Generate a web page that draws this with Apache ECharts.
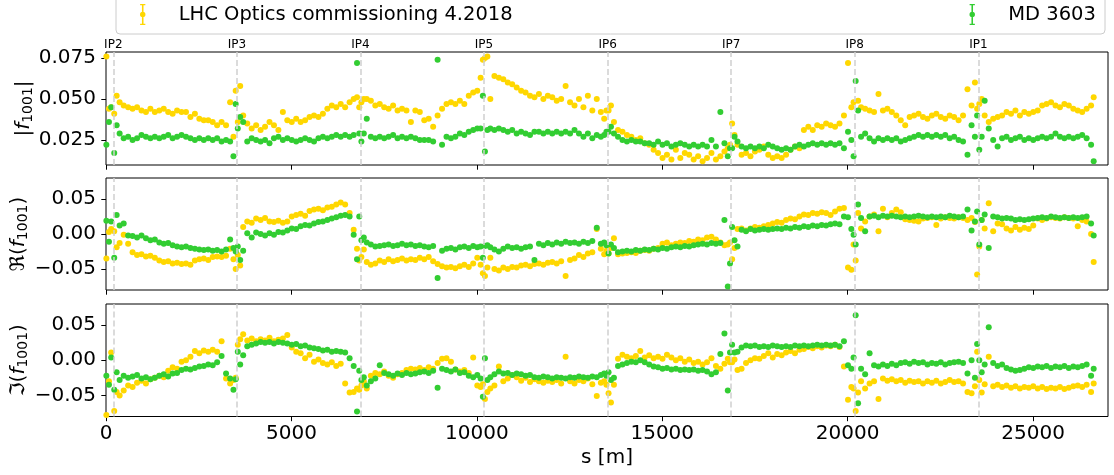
<!DOCTYPE html>
<html><head><meta charset="utf-8">
<script src="https://cdn.jsdelivr.net/npm/echarts@6/dist/echarts.min.js"></script>
<style>html,body{margin:0;padding:0;background:#fff}#c{width:1114px;height:475px}</style>
</head><body><div id="c"></div>
<script>
// BPM longitudinal positions s [m]
const S = [10, 80, 140,
 222, 287, 367, 477, 597, 717, 837, 957, 1077, 1197, 1317, 1437, 1557, 1677, 1797, 1917, 2037, 2157, 2277, 2397, 2517, 2637, 2757, 2877, 2997, 3117, 3237, 3347, 3437, 3497,
 3554, 3619, 3699, 3809, 3929, 4049, 4169, 4289, 4409, 4529, 4649, 4769, 4889, 5009, 5129, 5249, 5369, 5489, 5609, 5729, 5849, 5969, 6089, 6209, 6329, 6449, 6569, 6679, 6769, 6829,
 6887, 6952, 7032, 7142, 7262, 7382, 7502, 7622, 7742, 7862, 7982, 8102, 8222, 8342, 8462, 8582, 8702, 8822, 8942, 9062, 9182, 9302, 9422, 9542, 9662, 9782, 9902, 10012, 10102, 10162,
 10219, 10284, 10364, 10474, 10594, 10714, 10834, 10954, 11074, 11194, 11314, 11434, 11554, 11674, 11794, 11914, 12034, 12154, 12274, 12394, 12514, 12634, 12754, 12874, 12994, 13114, 13234, 13344, 13434, 13494,
 13552, 13617, 13697, 13807, 13927, 14047, 14167, 14287, 14407, 14527, 14647, 14767, 14887, 15007, 15127, 15247, 15367, 15487, 15607, 15727, 15847, 15967, 16087, 16207, 16327, 16447, 16567, 16677, 16767, 16827,
 16884, 16949, 17029, 17139, 17259, 17379, 17499, 17619, 17739, 17859, 17979, 18099, 18219, 18339, 18459, 18579, 18699, 18819, 18939, 19059, 19179, 19299, 19419, 19539, 19659, 19779, 19899, 20009, 20099, 20159,
 20216, 20281, 20361, 20471, 20591, 20711, 20831, 20951, 21071, 21191, 21311, 21431, 21551, 21671, 21791, 21911, 22031, 22151, 22271, 22391, 22511, 22631, 22751, 22871, 22991, 23111, 23231, 23341, 23431, 23491,
 23549, 23614, 23694, 23804, 23924, 24044, 24164, 24284, 24404, 24524, 24644, 24764, 24884, 25004, 25124, 25244, 25364, 25484, 25604, 25724, 25844, 25964, 26084, 26204, 26324, 26444, 26564, 26634];

// |f1001|
const ABS_LHC = [0.076, 0.044, 0.045,
 0.041, 0.052, 0.048, 0.046, 0.045, 0.044, 0.045, 0.043, 0.042, 0.044, 0.042, 0.043, 0.044, 0.042, 0.041, 0.043, 0.042, 0.042, 0.039, 0.041, 0.038, 0.037, 0.037, 0.036, 0.034, 0.036, 0.034, 0.048, 0.027, 0.055,
 0.036, 0.058, 0.040, 0.035, 0.032, 0.034, 0.031, 0.033, 0.036, 0.034, 0.031, 0.042, 0.037, 0.036, 0.038, 0.036, 0.037, 0.039, 0.040, 0.039, 0.041, 0.044, 0.046, 0.045, 0.047, 0.045, 0.048, 0.050, 0.051, 0.045,
 0.048, 0.050, 0.050, 0.049, 0.046, 0.047, 0.045, 0.044, 0.046, 0.043, 0.044, 0.043, 0.036, 0.043, 0.042, 0.037, 0.038, 0.033, 0.040, 0.044, 0.047, 0.048, 0.047, 0.049, 0.047, 0.052, 0.054, 0.055, 0.063, 0.074,
 0.075, 0.076, 0.050, 0.064, 0.063, 0.062, 0.060, 0.059, 0.057, 0.055, 0.054, 0.052, 0.051, 0.053, 0.050, 0.052, 0.051, 0.049, 0.050, 0.058, 0.048, 0.046, 0.050, 0.045, 0.052, 0.043, 0.050, 0.042, 0.038, 0.043,
 0.043, 0.046, 0.036, 0.031, 0.030, 0.028, 0.027, 0.025, 0.026, 0.023, 0.022, 0.019, 0.017, 0.014, 0.016, 0.013, 0.019, 0.014, 0.017, 0.016, 0.013, 0.015, 0.012, 0.014, 0.017, 0.013, 0.015, 0.018, 0.020, 0.022,
 0.035, 0.028, 0.022, 0.016, 0.017, 0.015, 0.018, 0.019, 0.021, 0.016, 0.014, 0.015, 0.014, 0.016, 0.019, 0.021, 0.020, 0.031, 0.033, 0.031, 0.034, 0.033, 0.035, 0.034, 0.033, 0.035, 0.040, 0.072, 0.045, 0.048,
 0.079, 0.049, 0.045, 0.044, 0.043, 0.042, 0.053, 0.043, 0.044, 0.042, 0.040, 0.037, 0.034, 0.039, 0.040, 0.041, 0.039, 0.038, 0.040, 0.041, 0.039, 0.038, 0.040, 0.039, 0.037, 0.040, 0.056, 0.046, 0.060, 0.044,
 0.047, 0.050, 0.040, 0.036, 0.038, 0.039, 0.040, 0.042, 0.041, 0.043, 0.040, 0.042, 0.041, 0.042, 0.043, 0.046, 0.047, 0.048, 0.046, 0.045, 0.047, 0.046, 0.044, 0.043, 0.042, 0.044, 0.046, 0.051];
const ABS_MD = [0.022, 0.036, 0.045,
 0.017, 0.034, 0.029, 0.026, 0.027, 0.025, 0.026, 0.028, 0.027, 0.026, 0.027, 0.026, 0.027, 0.028, 0.026, 0.027, 0.028, 0.027, 0.026, 0.025, 0.026, 0.025, 0.026, 0.025, 0.026, 0.024, 0.025, 0.024, 0.015, 0.047,
 0.032, 0.039, 0.036, 0.024, 0.026, 0.025, 0.024, 0.025, 0.023, 0.026, 0.027, 0.025, 0.026, 0.025, 0.024, 0.025, 0.026, 0.025, 0.024, 0.026, 0.027, 0.026, 0.027, 0.028, 0.027, 0.028, 0.027, 0.028, 0.072, 0.029,
 0.024, 0.029, 0.038, 0.027, 0.026, 0.027, 0.026, 0.027, 0.028, 0.026, 0.027, 0.026, 0.027, 0.026, 0.025, 0.025, 0.025, 0.024, 0.074, 0.022, 0.027, 0.026, 0.027, 0.029, 0.028, 0.030, 0.031, 0.032, 0.032, 0.052,
 0.018, 0.031, 0.032, 0.031, 0.032, 0.031, 0.030, 0.031, 0.029, 0.030, 0.029, 0.028, 0.030, 0.030, 0.029, 0.030, 0.029, 0.030, 0.029, 0.030, 0.029, 0.031, 0.029, 0.027, 0.029, 0.026, 0.028, 0.027, 0.028, 0.030,
 0.030, 0.033, 0.029, 0.027, 0.025, 0.024, 0.025, 0.024, 0.024, 0.023, 0.023, 0.022, 0.024, 0.022, 0.023, 0.021, 0.022, 0.023, 0.022, 0.021, 0.022, 0.021, 0.022, 0.021, 0.025, 0.021, 0.042, 0.023, 0.015, 0.020,
 0.020, 0.027, 0.024, 0.021, 0.020, 0.021, 0.020, 0.021, 0.020, 0.022, 0.021, 0.020, 0.019, 0.020, 0.019, 0.021, 0.022, 0.021, 0.022, 0.023, 0.022, 0.023, 0.022, 0.023, 0.022, 0.023, 0.020, 0.030, 0.025, 0.015,
 0.061, 0.043, 0.027, 0.029, 0.026, 0.024, 0.026, 0.025, 0.026, 0.025, 0.026, 0.024, 0.025, 0.026, 0.027, 0.028, 0.027, 0.028, 0.027, 0.028, 0.027, 0.028, 0.026, 0.027, 0.025, 0.024, 0.016, 0.034, 0.027, 0.040,
 0.019, 0.027, 0.049, 0.032, 0.025, 0.021, 0.026, 0.027, 0.025, 0.026, 0.027, 0.025, 0.026, 0.025, 0.026, 0.027, 0.026, 0.027, 0.029, 0.027, 0.026, 0.027, 0.026, 0.027, 0.028, 0.026, 0.022, 0.012];

// Re(f1001)
const RE_LHC = [-0.035, 0.003, 0.007,
 0.004, -0.019, -0.013, -0.001, -0.014, -0.026, -0.030, -0.029, -0.032, -0.031, -0.034, -0.038, -0.040, -0.039, -0.042, -0.041, -0.043, -0.042, -0.044, -0.038, -0.036, -0.035, -0.037, -0.033, -0.032, -0.033, -0.031, -0.021, -0.036, -0.050,
 -0.030, -0.045, 0.010, 0.018, 0.016, 0.022, 0.020, 0.023, 0.018, 0.017, 0.019, 0.016, 0.018, 0.025, 0.027, 0.029, 0.026, 0.033, 0.035, 0.036, 0.034, 0.038, 0.039, 0.042, 0.045, 0.042, 0.030, 0.006, -0.021, -0.038,
 -0.033, -0.022, -0.040, -0.044, -0.042, -0.038, -0.040, -0.036, -0.039, -0.037, -0.035, -0.038, -0.036, -0.037, -0.034, -0.036, -0.033, -0.039, -0.043, -0.046, -0.048, -0.047, -0.049, -0.046, -0.044, -0.047, -0.042, -0.034, -0.044, -0.056,
 -0.060, -0.048, -0.034, -0.050, -0.052, -0.048, -0.050, -0.047, -0.048, -0.045, -0.044, -0.046, -0.043, -0.042, -0.044, -0.041, -0.040, -0.042, -0.039, -0.060, -0.037, -0.035, -0.030, -0.033, -0.028, -0.026, 0.007, -0.021, -0.029, -0.024,
 -0.028, -0.020, -0.006, -0.029, -0.028, -0.027, -0.026, -0.027, -0.024, -0.023, -0.024, -0.021, -0.020, -0.014, -0.012, -0.016, -0.014, -0.012, -0.013, -0.010, -0.011, -0.008, -0.009, -0.005, -0.004, -0.008, -0.012, -0.016, -0.015, -0.012,
 -0.036, -0.020, 0.007, 0.008, 0.005, 0.008, 0.010, 0.009, 0.011, 0.013, 0.015, 0.017, 0.016, 0.020, 0.022, 0.021, 0.025, 0.028, 0.027, 0.030, 0.029, 0.031, 0.030, 0.027, 0.032, 0.036, 0.037, -0.048, -0.051, -0.015,
 -0.038, 0.030, 0.008, 0.018, 0.025, 0.028, 0.004, 0.036, 0.024, 0.030, 0.035, 0.031, 0.021, 0.020, 0.019, 0.018, 0.022, 0.023, 0.024, 0.013, 0.022, 0.024, 0.023, 0.022, 0.024, 0.023, 0.020, 0.023, 0.017, -0.058,
 -0.018, 0.020, 0.008, 0.044, 0.004, 0.015, 0.014, 0.008, 0.005, 0.010, 0.006, 0.009, 0.007, 0.012, 0.022, 0.020, 0.022, 0.024, 0.023, 0.022, 0.024, 0.023, 0.022, 0.011, 0.020, 0.018, 0.000, -0.040];
const RE_MD = [0.019, -0.011, 0.018,
 -0.034, 0.027, 0.012, 0.015, -0.002, -0.003, -0.005, -0.002, -0.006, -0.009, -0.008, -0.012, -0.014, -0.013, -0.016, -0.018, -0.019, -0.018, -0.020, -0.021, -0.022, -0.023, -0.022, -0.024, -0.023, -0.025, -0.022, -0.008, -0.020, -0.025,
 -0.018, -0.037, -0.024, 0.001, -0.005, 0.002, 0.000, -0.002, 0.001, -0.001, 0.003, 0.002, 0.005, 0.008, 0.007, 0.011, 0.013, 0.012, 0.015, 0.017, 0.018, 0.020, 0.022, 0.024, 0.026, 0.027, 0.025, -0.001, -0.036, 0.025,
 -0.009, -0.005, -0.012, -0.015, -0.018, -0.017, -0.016, -0.015, -0.017, -0.016, -0.014, -0.016, -0.015, -0.017, -0.016, -0.018, -0.019, -0.017, -0.063, -0.024, -0.021, -0.020, -0.022, -0.019, -0.018, -0.020, -0.017, -0.019, -0.018, -0.034,
 -0.017, -0.016, -0.019, -0.022, -0.025, -0.021, -0.018, -0.020, -0.019, -0.021, -0.019, -0.018, -0.037, -0.014, -0.016, -0.013, -0.015, -0.012, -0.014, -0.011, -0.013, -0.012, -0.014, -0.011, -0.013, -0.010, 0.009, -0.014, -0.012, -0.016,
 -0.028, -0.015, -0.020, -0.026, -0.025, -0.024, -0.025, -0.023, -0.024, -0.022, -0.023, -0.021, -0.022, -0.020, -0.021, -0.019, -0.018, -0.019, -0.017, -0.018, -0.016, -0.015, -0.014, -0.015, -0.013, -0.014, -0.013, 0.020, -0.075, -0.042,
 0.010, -0.009, -0.018, 0.006, 0.004, 0.007, 0.005, 0.006, 0.007, 0.006, 0.007, 0.008, 0.007, 0.009, 0.008, 0.010, 0.009, 0.011, 0.010, 0.012, 0.011, 0.013, 0.012, 0.014, 0.015, 0.014, 0.025, 0.024, 0.007, -0.001,
 -0.015, 0.042, 0.023, 0.004, 0.025, 0.026, 0.024, 0.026, 0.025, 0.026, 0.025, 0.024, 0.025, 0.024, 0.025, 0.026, 0.025, 0.024, 0.025, 0.024, 0.025, 0.024, 0.026, 0.025, 0.024, 0.025, 0.035, 0.005, 0.018, 0.032,
 -0.015, 0.020, 0.028, -0.020, 0.025, 0.024, 0.022, 0.023, 0.022, 0.020, 0.021, 0.020, 0.021, 0.022, 0.023, 0.024, 0.023, 0.025, 0.024, 0.023, 0.024, 0.023, 0.024, 0.023, 0.024, 0.025, 0.015, -0.002];

// Im(f1001)
const IM_LHC = [-0.078, -0.030, 0.011,
 -0.072, -0.045, -0.050, -0.043, -0.036, -0.038, -0.032, -0.029, -0.033, -0.027, -0.025, -0.022, -0.024, -0.015, -0.010, -0.012, -0.002, 0.000, 0.005, 0.013, 0.010, 0.014, 0.012, 0.015, 0.012, 0.027, -0.026, -0.033, -0.028, -0.025,
 0.022, 0.030, 0.037, 0.028, 0.031, 0.027, 0.030, 0.028, 0.032, 0.027, 0.029, 0.031, 0.036, 0.018, 0.012, 0.010, 0.003, 0.008, -0.002, 0.001, -0.004, -0.006, -0.003, -0.008, -0.005, -0.033, -0.046, -0.045, -0.040, -0.042,
 -0.036, -0.030, -0.040, -0.022, -0.018, -0.020, -0.016, -0.022, -0.025, -0.020, -0.018, -0.014, -0.012, -0.013, -0.011, -0.014, -0.010, -0.012, -0.004, 0.002, 0.003, -0.002, -0.013, -0.016, -0.014, -0.018, 0.004, -0.036, -0.038, -0.034,
 -0.055, -0.045, -0.040, -0.036, -0.009, -0.030, -0.026, -0.021, -0.024, -0.029, -0.025, -0.031, -0.027, -0.030, -0.032, -0.029, -0.031, -0.028, -0.033, 0.005, -0.030, -0.033, -0.028, -0.030, -0.026, -0.034, -0.051, -0.032, -0.030, -0.035,
 -0.047, -0.060, -0.035, 0.002, 0.008, 0.005, 0.003, 0.006, 0.013, 0.004, 0.007, 0.003, 0.005, 0.002, 0.008, 0.004, 0.000, 0.003, -0.002, 0.001, -0.004, -0.002, -0.006, -0.003, 0.003, -0.008, -0.012, -0.005, 0.002, -0.003,
 -0.003, 0.001, -0.014, -0.012, -0.004, 0.000, 0.003, 0.002, 0.006, 0.010, 0.004, 0.009, 0.007, 0.011, 0.013, 0.010, 0.015, 0.016, 0.019, 0.017, 0.020, 0.018, 0.021, 0.020, 0.022, 0.019, -0.009, -0.056, -0.038, -0.040,
 -0.072, -0.046, -0.030, -0.040, -0.033, -0.030, -0.055, -0.026, -0.029, -0.027, -0.030, -0.028, -0.032, -0.029, -0.031, -0.030, -0.033, -0.030, -0.032, -0.029, -0.033, -0.031, -0.028, -0.031, -0.030, -0.033, -0.045, -0.047, -0.037, 0.012,
 -0.028, -0.046, -0.034, 0.005, -0.037, -0.035, -0.038, -0.036, -0.039, -0.037, -0.040, -0.038, -0.039, -0.037, -0.040, -0.038, -0.041, -0.039, -0.040, -0.038, -0.041, -0.039, -0.037, -0.036, -0.038, -0.035, -0.045, -0.033];
const IM_MD = [-0.022, -0.035, 0.004,
 -0.042, -0.017, -0.028, -0.022, -0.025, -0.023, -0.021, -0.026, -0.024, -0.027, -0.025, -0.022, -0.020, -0.023, -0.019, -0.018, -0.014, -0.012, -0.013, -0.011, -0.009, -0.008, -0.006, -0.007, -0.003, 0.006, -0.019, -0.026, -0.042, -0.027,
 0.012, -0.006, 0.007, 0.020, 0.022, 0.024, 0.026, 0.025, 0.026, 0.024, 0.026, 0.025, 0.024, 0.022, 0.023, 0.020, 0.021, 0.018, 0.017, 0.016, 0.014, 0.015, 0.012, 0.013, 0.012, 0.011, 0.003, -0.008, -0.073, -0.015,
 -0.028, -0.024, -0.036, -0.030, -0.026, -0.007, -0.018, -0.020, -0.022, -0.019, -0.021, -0.018, -0.020, -0.019, -0.017, -0.016, -0.018, -0.015, -0.039, -0.012, -0.014, -0.016, -0.013, -0.018, -0.017, -0.022, -0.024, -0.021, -0.026, -0.052,
 0.003, -0.028, -0.024, -0.020, -0.016, -0.019, -0.018, -0.021, -0.019, -0.020, -0.022, -0.021, -0.024, -0.025, -0.023, -0.024, -0.026, -0.024, -0.025, -0.026, -0.024, -0.025, -0.023, -0.024, -0.025, -0.023, -0.024, -0.021, -0.019, -0.022,
 -0.017, -0.028, -0.025, -0.008, -0.006, -0.004, -0.002, -0.003, 0.000, -0.003, -0.006, -0.009, -0.010, -0.012, -0.011, -0.013, -0.012, -0.014, -0.013, -0.014, -0.013, -0.015, -0.014, -0.016, -0.020, -0.017, 0.009, 0.038, -0.043, 0.011,
 0.022, 0.011, 0.012, 0.018, 0.021, 0.020, 0.021, 0.019, 0.020, 0.019, 0.021, 0.020, 0.019, 0.020, 0.019, 0.021, 0.020, 0.021, 0.020, 0.021, 0.022, 0.021, 0.022, 0.021, 0.022, 0.020, 0.027, -0.007, -0.012, 0.004,
 0.064, -0.061, -0.012, -0.020, 0.010, -0.007, -0.009, -0.006, -0.008, -0.005, -0.007, -0.004, -0.003, -0.005, -0.002, -0.004, -0.003, -0.006, -0.004, -0.005, -0.003, -0.006, -0.004, -0.003, -0.002, -0.004, -0.019, 0.000, -0.025, 0.023,
 0.000, -0.017, -0.006, 0.047, -0.004, -0.008, -0.006, -0.011, -0.013, -0.015, -0.014, -0.012, -0.010, -0.011, -0.009, -0.010, -0.008, -0.011, -0.009, -0.010, -0.008, -0.011, -0.009, -0.010, -0.008, -0.006, -0.022, -0.012];

const IP_S = [197, 3529, 6862, 10194, 13527, 16859, 20191, 23524];
const IP_NAMES = ['IP2', 'IP3', 'IP4', 'IP5', 'IP6', 'IP7', 'IP8', 'IP1'];
const X_TICKS = [0, 5000, 10000, 15000, 20000, 25000];
const ABS_TICKS = [0.025, 0.050, 0.075];
const RI_TICKS = [-0.05, 0.00, 0.05];
const NAME_LHC = 'LHC Optics commissioning 4.2018';
const NAME_MD = 'MD 3603';
const C_LHC = '#FFD700';
const C_MD = '#32CD32';

// sanity check of array lengths
const bad = [['ABS_LHC',ABS_LHC],['ABS_MD',ABS_MD],['RE_LHC',RE_LHC],['RE_MD',RE_MD],['IM_LHC',IM_LHC],['IM_MD',IM_MD]]
  .filter(a => a[1].length !== S.length).map(a => a[0] + ':' + a[1].length + '/' + S.length);
if (bad.length) {
  document.body.insertAdjacentHTML('beforeend', '<div style="position:absolute;left:300px;top:200px;color:red;font-size:20px;z-index:10;background:#fff">LEN MISMATCH ' + bad.join(' ') + '</div>');
}

const FONT = 'DejaVu Sans';
const pts = v => S.map((s, i) => [s, v[i]]);
const minus = s => s.replace('-', '\u2212');
const fmt = d => v => minus(v.toFixed(d));

const grids = [
  {left: 106, width: 1002, top: 52, height: 113},
  {left: 106, width: 1002, top: 178, height: 112},
  {left: 106, width: 1002, top: 304, height: 112.5}
].map(g => Object.assign(g, {show: true, borderColor: '#000', borderWidth: 1, backgroundColor: 'transparent',
  containLabel: false, outerBoundsMode: 'none'}));

const xAxes = [0, 1, 2].map(g => ({
  type: 'value', gridIndex: g, min: 0, max: 27020, position: 'bottom',
  axisLine: {show: false, onZero: false},
  axisTick: {show: true, length: 4.7, lineStyle: {color: '#000', width: 1}, customValues: X_TICKS},
  axisLabel: {show: g === 2, customValues: X_TICKS, fontSize: 20, color: '#000', fontFamily: FONT, margin: 7,
    formatter: v => String(Math.round(v))},
  splitLine: {show: false},
  name: g === 2 ? 's [m]' : '', nameLocation: 'middle', nameGap: 31, nameMoveOverlap: false,
  nameTextStyle: {fontSize: 20, color: '#000', fontFamily: FONT}
}));

const richName = {
  a: {fontSize: 20, fontFamily: FONT, color: '#000'},
  i: {fontSize: 20, fontFamily: FONT, fontStyle: 'italic', color: '#000'},
  s: {fontSize: 14, fontFamily: FONT, color: '#000', padding: [8, 0, 0, 0]}
};
const yDefs = [
  {min: 0.0097, max: 0.0787, ticks: ABS_TICKS, dec: 3, gap: 71,
   name: '{a||}{i|f}{s|1001}{a||}'},
  {min: -0.08, max: 0.08, ticks: RI_TICKS, dec: 2, gap: 76,
   name: '{a|\u211C(}{i|f}{s|1001}{a|)}'},
  {min: -0.08, max: 0.08, ticks: RI_TICKS, dec: 2, gap: 76,
   name: '{a|\u2111(}{i|f}{s|1001}{a|)}'}
];
const yAxes = yDefs.map((d, g) => ({
  type: 'value', gridIndex: g, min: d.min, max: d.max,
  axisLine: {show: false, onZero: false},
  axisTick: {show: true, length: 4.7, lineStyle: {color: '#000', width: 1}, customValues: d.ticks},
  axisLabel: {customValues: d.ticks, fontSize: 20, color: '#000', fontFamily: FONT, margin: 10, formatter: fmt(d.dec)},
  splitLine: {show: false},
  name: d.name, nameLocation: 'middle', nameGap: d.gap, nameMoveOverlap: false,
  nameTextStyle: {color: '#000', fontFamily: FONT, fontSize: 20, rich: richName}
}));

const series = [];
const sets = [[ABS_LHC, ABS_MD], [RE_LHC, RE_MD], [IM_LHC, IM_MD]];
sets.forEach((pair, g) => {
  series.push({
    type: 'scatter', name: 'ip' + g, xAxisIndex: g, yAxisIndex: g, data: [], z: 1, silent: true,
    markLine: {
      silent: true, symbol: ['none', 'none'], animation: false,
      lineStyle: {color: '#cfcfcf', type: [6, 3], width: 1.5},
      label: g === 0
        ? {show: true, position: 'end', formatter: p => p.name, fontSize: 12, color: '#000', fontFamily: FONT, distance: 1}
        : {show: false},
      emphasis: {disabled: true},
      data: IP_S.map((s, i) => ({xAxis: s, name: IP_NAMES[i]}))
    }
  });
  series.push({
    type: 'scatter', name: NAME_LHC, xAxisIndex: g, yAxisIndex: g, data: pts(pair[0]),
    symbolSize: 6, itemStyle: {color: C_LHC, opacity: 1}, z: 3, clip: true
  });
  series.push({
    type: 'scatter', name: NAME_MD, xAxisIndex: g, yAxisIndex: g, data: pts(pair[1]),
    symbolSize: 6, itemStyle: {color: C_MD, opacity: 1}, z: 4, clip: true
  });
});

const ERRBAR = 'path://M2.25,0H3.75V20H2.25Z M0.5,0H5.5V1.2H0.5Z M0.5,18.8H5.5V20H0.5Z M5.6,10A2.6,2.6,0,1,1,0.4,10A2.6,2.6,0,1,1,5.6,10Z';
const legendBase = {
  top: 4, padding: 0, orient: 'horizontal', icon: ERRBAR, itemWidth: 6, itemHeight: 21, selectedMode: false,
  formatter: n => '{g| }{t|' + n + '}',
  textStyle: {color: '#000', fontFamily: FONT, fontSize: 19.5,
    rich: {g: {width: 28}, t: {fontSize: 19.5, fontFamily: FONT, color: '#000'}}},
  z: 6
};

const chart = echarts.init(document.getElementById('c'), null, {renderer: 'canvas'});
chart.setOption({
  backgroundColor: '#fff',
  animation: false,
  textStyle: {fontFamily: FONT},
  graphic: [{
    type: 'rect', z: 2, silent: true,
    shape: {x: 116, y: -20, width: 989, height: 54, r: 4},
    style: {fill: 'rgba(255,255,255,0.8)', stroke: '#cccccc', lineWidth: 1}
  }],
  legend: [
    Object.assign({}, legendBase, {data: [NAME_LHC], left: 140}),
    Object.assign({}, legendBase, {data: [NAME_MD], left: 969.5})
  ],
  grid: grids,
  xAxis: xAxes,
  yAxis: yAxes,
  series: series
});
</script>
</body></html>
